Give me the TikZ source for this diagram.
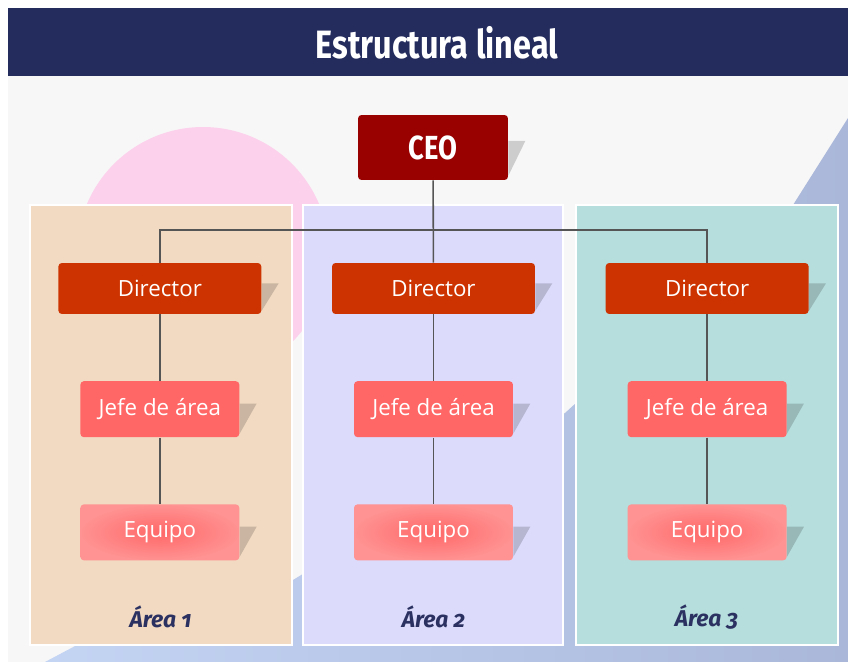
\documentclass[tikz,border=0pt]{standalone}
\usepackage{fontspec}
\setmainfont{Open Sans}
\newfontfamily\headfont[FakeStretch=0.82]{Fira Sans}
\newfontfamily\areafont[Numbers=OldStyle]{Fira Sans}
\usetikzlibrary{positioning, calc, backgrounds}

\definecolor{navybar}{HTML}{242C5E}
\definecolor{bggray}{HTML}{F7F7F7}
\definecolor{pinkdisc}{HTML}{FCD1EC}
\definecolor{blueA}{HTML}{C4D4F3}
\definecolor{blueB}{HTML}{AAB7D9}
\definecolor{areaone}{HTML}{F2DAC2}
\definecolor{areatwo}{HTML}{DCDBFC}
\definecolor{areathree}{HTML}{B6DEDD}
\definecolor{ceored}{HTML}{990000}
\definecolor{dirred}{HTML}{CC3300}
\definecolor{jefered}{HTML}{FF6666}
\definecolor{teamin}{HTML}{FF6868}
\definecolor{teamout}{HTML}{FF9292}
\definecolor{labelnavy}{HTML}{2B3160}
\definecolor{linkgray}{HTML}{555555}

\begin{document}
\begin{tikzpicture}[
    x=0.02cm, y=-0.02cm,
    node distance=1.33cm and 1.4cm,
    orgbox/.style={rectangle, rounded corners=2pt, inner sep=0pt, text=white, font=\fontsize{12.7}{15}\selectfont},
    ceobox/.style={orgbox, fill=ceored, minimum width=3cm, minimum height=1.3cm, font=\headfont\bfseries\fontsize{19}{22}\selectfont},
    dirbox/.style={orgbox, fill=dirred, minimum width=4.06cm, minimum height=1.02cm},
    jefebox/.style={orgbox, fill=jefered, minimum width=3.18cm, minimum height=1.12cm},
    teambox/.style={orgbox, inner color=teamin, outer color=teamout, minimum width=3.18cm, minimum height=1.12cm},
    arealabel/.style={font=\areafont\bfseries\itshape\fontsize{13}{16}\selectfont, text=labelnavy},
    panel/.style={draw=white, line width=1.6pt},
    link/.style={draw=linkgray, line width=0.9pt},
    boxshadow/.style={fill=black, fill opacity=0.17}
]
    \useasboundingbox (0,0) rectangle (848,662);

    % title bar
    \fill[navybar] (8,8) rectangle (848,76);
    \node[text=white, font=\headfont\bfseries\fontsize{22.5}{26}\selectfont] (title) at (437,43) {Estructura lineal};

    % chart
    \node (ceo) [ceobox] at (433,147.5) {CEO};
    \node (dir2) [dirbox] at (433.5,288.5) {Director};
    \node (dir1) [dirbox, left=of dir2] {Director};
    \node (dir3) [dirbox, right=of dir2] {Director};

    \node (jefe1) [jefebox, below=of dir1] {Jefe de área};
    \node (jefe2) [jefebox, below=of dir2] {Jefe de área};
    \node (jefe3) [jefebox, below=of dir3] {Jefe de área};

    \node (team1) [teambox, below=of jefe1] {Equipo};
    \node (team2) [teambox, below=of jefe2] {Equipo};
    \node (team3) [teambox, below=of jefe3] {Equipo};

    \node (area1) [arealabel] at (160.5,617) {Área 1};
    \node (area2) [arealabel] at (433.5,617) {Área 2};
    \node (area3) [arealabel] at (706.5,617) {Área 3};

    \coordinate (bus) at (433.5,230);
    \draw[link] (ceo) -- (dir2);
    \draw[link] (dir1) |- (bus) -| (dir3);
    \draw[link] (dir1) -- (jefe1) -- (team1);
    \draw[link] (dir2) -- (jefe2) -- (team2);
    \draw[link] (dir3) -- (jefe3) -- (team3);

    \begin{pgfonlayer}{background}
        \fill[white] (0,0) rectangle (848,662);
        \fill[bggray] (8,76) rectangle (848,662);
        \fill[pinkdisc] (203,253) circle[radius=2.52cm];
        \shade[left color=blueA, right color=blueB]
            (848,118) -- (793,205) -- (565,413) -- (293,580) -- (77,645) -- (45,662) -- (848,662) -- cycle;
        \draw[panel, fill=areaone] (30,205) rectangle (292,645);
        \draw[panel, fill=areatwo] (303,205) rectangle (563,645);
        \draw[panel, fill=areathree] (576,205) rectangle (838,645);
        % drop shadows
        \foreach \n in {ceo,dir1,dir2,dir3,jefe1,jefe2,jefe3,team1,team2,team3}
            \fill[boxshadow] ($(\n.north east)!0.4!(\n.south east)$) -- ++(17,0) -- ($(\n.north east)!0.93!(\n.south east)$) -- cycle;
    \end{pgfonlayer}
\end{tikzpicture}
\end{document}
